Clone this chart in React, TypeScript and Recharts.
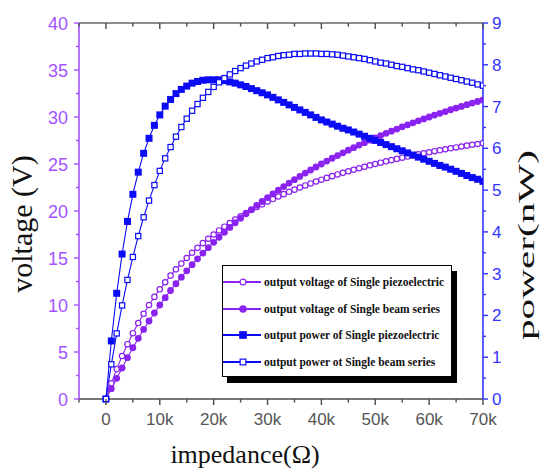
import React from 'react';
import { ComposedChart, Line, XAxis, YAxis, Legend } from 'recharts';

// impedance in kΩ
const impedanceK = [
  0, 1, 2, 3, 4, 5, 6, 7, 8, 9,
  10, 11, 12, 13, 14, 15, 16, 17, 18, 19,
  20, 21, 22, 23, 24, 25, 26, 27, 28, 29,
  30, 31, 32, 33, 34, 35, 36, 37, 38, 39,
  40, 41, 42, 43, 44, 45, 46, 47, 48, 49,
  50, 51, 52, 53, 54, 55, 56, 57, 58, 59,
  60, 61, 62, 63, 64, 65, 66, 67, 68, 69,
  70,
];

// output voltage of Single piezoelectric (V) – hollow circles
const voltagePiezo = [
  0, 1.67, 3.18, 4.57, 5.83, 7.0, 8.08, 9.07, 10.0, 10.86,
  11.67, 12.42, 13.13, 13.79, 14.41, 15.0, 15.56, 16.08, 16.58, 17.05,
  17.5, 17.93, 18.33, 18.72, 19.09, 19.44, 19.78, 20.11, 20.42, 20.71,
  21.0, 21.27, 21.54, 21.79, 22.04, 22.27, 22.5, 22.72, 22.93, 23.14,
  23.33, 23.52, 23.71, 23.89, 24.06, 24.23, 24.39, 24.55, 24.71, 24.86,
  25.0, 25.14, 25.28, 25.41, 25.54, 25.67, 25.79, 25.91, 26.03, 26.14,
  26.25, 26.36, 26.46, 26.57, 26.67, 26.76, 26.86, 26.95, 27.05, 27.13,
  27.22,
];

// output voltage of Single beam series (V) – filled circles
const voltageBeam = [
  0, 1.1, 2.2, 3.3, 4.4, 5.45, 6.45, 7.4, 8.3, 9.15,
  10.0, 10.78, 11.54, 12.26, 12.96, 13.64, 14.29, 14.91, 15.52, 16.1,
  16.67, 17.21, 17.74, 18.25, 18.75, 19.23, 19.7, 20.15, 20.59, 21.01,
  21.43, 21.83, 22.22, 22.6, 22.97, 23.33, 23.68, 24.03, 24.36, 24.68,
  25.0, 25.31, 25.61, 25.9, 26.19, 26.47, 26.74, 27.01, 27.27, 27.53,
  27.78, 28.02, 28.26, 28.49, 28.72, 28.95, 29.17, 29.38, 29.59, 29.8,
  30.0, 30.2, 30.39, 30.58, 30.77, 30.95, 31.13, 31.31, 31.48, 31.65,
  31.82,
];

// output power of Single piezoelectric (nW) – filled squares
const powerPiezo = [
  0, 1.39, 2.53, 3.47, 4.25, 4.9, 5.43, 5.88, 6.24, 6.55,
  6.8, 7.01, 7.17, 7.31, 7.41, 7.49, 7.56, 7.6, 7.63, 7.64,
  7.64, 7.64, 7.62, 7.59, 7.56, 7.52, 7.48, 7.43, 7.38, 7.33,
  7.28, 7.22, 7.16, 7.1, 7.04, 6.98, 6.92, 6.86, 6.8, 6.74,
  6.68, 6.63, 6.58, 6.53, 6.48, 6.44, 6.39, 6.34, 6.29, 6.24,
  6.19, 6.14, 6.09, 6.04, 5.99, 5.94, 5.89, 5.84, 5.79, 5.74,
  5.69, 5.64, 5.59, 5.55, 5.5, 5.45, 5.4, 5.35, 5.3, 5.26,
  5.21,
];

// output power of Single beam series (nW) – hollow squares
const powerBeam = [
  0, 0.83, 1.57, 2.24, 2.85, 3.4, 3.9, 4.35, 4.75, 5.12,
  5.46, 5.76, 6.03, 6.28, 6.51, 6.71, 6.9, 7.06, 7.21, 7.35,
  7.47, 7.58, 7.68, 7.77, 7.85, 7.92, 7.98, 8.03, 8.08, 8.12,
  8.16, 8.18, 8.21, 8.23, 8.24, 8.26, 8.26, 8.27, 8.27, 8.27,
  8.26, 8.26, 8.25, 8.24, 8.22, 8.2, 8.18, 8.16, 8.14, 8.11,
  8.08, 8.05, 8.03, 8.0, 7.97, 7.95, 7.92, 7.89, 7.87, 7.84,
  7.81, 7.78, 7.75, 7.72, 7.69, 7.66, 7.63, 7.6, 7.57, 7.53,
  7.5,
];

const xTicks = [-5000, 0, 5000, 10000, 15000, 20000, 25000, 30000, 35000, 40000, 45000, 50000, 55000, 60000, 65000, 70000];
const xMajorLabels: Record<number, string> = {
  0: '0', 10000: '10k', 20000: '20k', 30000: '30k', 40000: '40k', 50000: '50k', 60000: '60k', 70000: '70k',
};
const voltageTicks = [0, 2.5, 5, 7.5, 10, 12.5, 15, 17.5, 20, 22.5, 25, 27.5, 30, 32.5, 35, 37.5, 40];
const powerTicks = [0, 0.5, 1, 1.5, 2, 2.5, 3, 3.5, 4, 4.5, 5, 5.5, 6, 6.5, 7, 7.5, 8, 8.5, 9];

const seriesNames = {
  vp: 'output voltage of Single piezoelectric',
  vb: 'output voltage of Single beam series',
  pp: 'output power of Single piezoelectric',
  pb: 'output power ot Single beam series',
};

const data = impedanceK.map((r, i) => ({
  r: r * 1000,
  vp: voltagePiezo[i],
  vb: voltageBeam[i],
  pp: powerPiezo[i],
  pb: powerBeam[i],
}));

const PURPLE = '#8a22f0';
const PURPLE_AXIS = '#a452ff';
const BLUE = '#0b0bf5';
const BLUE_AXIS = '#3434ff';
const GRAY = '#4a4a4a';
const SANS = "'Liberation Sans', Arial, sans-serif";
const SERIF = "'Liberation Serif', 'Times New Roman', serif";

type Shape = 'circleHollow' | 'circleFilled' | 'squareFilled' | 'squareHollow';

const Marker = ({ cx, cy, shape, color, scale = 1 }: { cx: number; cy: number; shape: Shape; color: string; scale?: number }) => {
  if (shape === 'circleHollow') return <circle cx={cx} cy={cy} r={2.7 * scale} fill="#fff" stroke={color} strokeWidth={1.2} />;
  if (shape === 'circleFilled') return <circle cx={cx} cy={cy} r={3.4 * scale} fill={color} stroke="none" />;
  if (shape === 'squareFilled') {
    const s = 7 * scale;
    return <rect x={cx - s / 2} y={cy - s / 2} width={s} height={s} fill={color} />;
  }
  const s = 5.2 * scale;
  return <rect x={cx - s / 2} y={cy - s / 2} width={s} height={s} fill="#fff" stroke={color} strokeWidth={1.2} />;
};

const makeDot = (shape: Shape, color: string) => (p: any) => (
  <g key={`dot-${shape}-${p.index}`}>
    {p.cx != null && p.cy != null ? <Marker cx={p.cx} cy={p.cy} shape={shape} color={color} /> : null}
  </g>
);

const legendItems: { key: keyof typeof seriesNames; color: string; shape: Shape }[] = [
  { key: 'vp', color: PURPLE, shape: 'circleHollow' },
  { key: 'vb', color: PURPLE, shape: 'circleFilled' },
  { key: 'pp', color: BLUE, shape: 'squareFilled' },
  { key: 'pb', color: BLUE, shape: 'squareHollow' },
];

const LegendBox = () => (
  <div
    style={{
      width: 230,
      height: 112,
      boxSizing: 'border-box',
      border: '1.5px solid #000',
      background: '#fff',
      boxShadow: '5px 6px 0 #000',
      paddingTop: 3,
      overflow: 'hidden',
    }}
  >
    {legendItems.map((it) => (
      <div key={it.key} style={{ display: 'flex', alignItems: 'center', height: 26.5 }}>
        <svg width={40} height={12} style={{ flex: 'none' }}>
          <line x1={0} x2={38} y1={6} y2={6} stroke={it.color} strokeWidth={2} />
          <Marker cx={20} cy={6} shape={it.shape} color={it.color} scale={1.1} />
        </svg>
        <span
          style={{
            fontFamily: SERIF,
            fontSize: 11.5,
            fontWeight: 'bold',
            color: '#111',
            whiteSpace: 'nowrap',
            marginLeft: 1,
          }}
        >
          {seriesNames[it.key]}
        </span>
      </div>
    ))}
  </div>
);

const BottomTick = (props: any) => {
  const { x, y, payload } = props;
  const v = payload.value;
  const label = xMajorLabels[v];
  return (
    <g>
      <line x1={x} x2={x} y1={y} y2={y + (label ? 6 : 3.5)} stroke={GRAY} strokeWidth={1.4} />
      {label ? (
        <text x={x} y={y + 26} textAnchor="middle" fontSize={17} fill="#555" fontFamily={SANS}>
          {label}
        </text>
      ) : null}
    </g>
  );
};

const TopTick = (props: any) => {
  const { x, y, payload } = props;
  const major = xMajorLabels[payload.value] !== undefined;
  return <line x1={x} x2={x} y1={y} y2={y + (major ? 6 : 3.5)} stroke={GRAY} strokeWidth={1.4} />;
};

const LeftTick = (props: any) => {
  const { x, y, payload } = props;
  const v = payload.value;
  const major = v % 5 === 0;
  return (
    <g>
      <line x1={x - (major ? 5 : 3)} x2={x} y1={y} y2={y} stroke={PURPLE_AXIS} strokeWidth={1.4} />
      {major ? (
        <text x={x - 11} y={y + 6.5} textAnchor="end" fontSize={18} fill={PURPLE_AXIS} fontFamily={SANS}>
          {v}
        </text>
      ) : null}
    </g>
  );
};

const RightTick = (props: any) => {
  const { x, y, payload } = props;
  const v = payload.value;
  const major = Number.isInteger(v);
  return (
    <g>
      <line x1={x} x2={x + (major ? 5 : 3)} y1={y} y2={y} stroke={BLUE_AXIS} strokeWidth={1.4} />
      {major ? (
        <text x={x + 9} y={y + 6} textAnchor="start" fontSize={17} fill={BLUE_AXIS} fontFamily={SANS}>
          {v}
        </text>
      ) : null}
    </g>
  );
};

const XLabel = (props: any) => {
  const vb = props.viewBox || {};
  return (
    <text
      x={vb.x + vb.width / 2 - 36}
      y={vb.y + 64}
      textAnchor="middle"
      fontSize={26}
      fill="#111"
      fontFamily={SERIF}
    >
      impedance(Ω)
    </text>
  );
};

const VLabel = (props: any) => {
  const vb = props.viewBox || {};
  const cx = vb.x + 22;
  const cy = vb.y + vb.height / 2 + 13;
  return (
    <text
      x={0}
      y={0}
      transform={`translate(${cx + 10},${cy}) rotate(-90)`}
      textAnchor="middle"
      fontSize={30}
      fill="#111"
      fontFamily={SERIF}
    >
      voltage (V)
    </text>
  );
};

const PLabel = (props: any) => {
  const vb = props.viewBox || {};
  const cx = vb.x + 44;
  const cy = vb.y + vb.height / 2 + 34;
  return (
    <text
      x={0}
      y={0}
      transform={`translate(${cx + 7},${cy}) rotate(-90)`}
      textAnchor="middle"
      fontSize={23}
      textLength={190}
      lengthAdjust="spacingAndGlyphs"
      fill="#111"
      fontFamily={SERIF}
    >
      power(nW)
    </text>
  );
};

export default function App() {
  return (
    <div style={{ position: 'absolute', left: 0, top: 0, width: 540, height: 470, background: '#fff' }}>
      <ComposedChart width={540} height={470} data={data} margin={{ top: 22, right: 0, bottom: 0, left: 0 }}>
        <XAxis
          xAxisId="b"
          dataKey="r"
          type="number"
          domain={[-5000, 70000]}
          allowDataOverflow
          ticks={xTicks}
          interval={0}
          height={71}
          tickSize={0}
          tickMargin={0}
          tickLine={false}
          axisLine={{ stroke: GRAY, strokeWidth: 1.6 }}
          tick={BottomTick}
          label={{ content: XLabel }}
        />
        <XAxis
          xAxisId="t"
          orientation="top"
          dataKey="r"
          type="number"
          domain={[-5000, 70000]}
          allowDataOverflow
          ticks={xTicks}
          interval={0}
          height={1}
          tickSize={0}
          tickMargin={0}
          tickLine={false}
          axisLine={{ stroke: '#666', strokeWidth: 1.6 }}
          tick={TopTick}
        />
        <YAxis
          yAxisId="v"
          type="number"
          domain={[0, 40]}
          ticks={voltageTicks}
          interval={0}
          width={79}
          tickSize={0}
          tickMargin={0}
          tickLine={false}
          axisLine={{ stroke: PURPLE_AXIS, strokeWidth: 1.6 }}
          tick={LeftTick}
          label={{ content: VLabel }}
        />
        <YAxis
          yAxisId="p"
          orientation="right"
          type="number"
          domain={[0, 9]}
          ticks={powerTicks}
          interval={0}
          width={57}
          tickSize={0}
          tickMargin={0}
          tickLine={false}
          axisLine={{ stroke: BLUE_AXIS, strokeWidth: 1.6 }}
          tick={RightTick}
          label={{ content: PLabel }}
        />
        <Legend
          layout="vertical"
          align="center"
          verticalAlign="middle"
          content={<LegendBox />}
          wrapperStyle={{ left: 222, top: 265, width: 'auto' }}
        />
        <Line
          xAxisId="b"
          yAxisId="v"
          dataKey="vp"
          name={seriesNames.vp}
          stroke={PURPLE}
          strokeWidth={1.1}
          dot={makeDot('circleHollow', PURPLE)}
          activeDot={false}
          isAnimationActive={false}
        />
        <Line
          xAxisId="b"
          yAxisId="v"
          dataKey="vb"
          name={seriesNames.vb}
          stroke={PURPLE}
          strokeWidth={1.1}
          dot={makeDot('circleFilled', PURPLE)}
          activeDot={false}
          isAnimationActive={false}
        />
        <Line
          xAxisId="b"
          yAxisId="p"
          dataKey="pp"
          name={seriesNames.pp}
          stroke={BLUE}
          strokeWidth={1.1}
          dot={makeDot('squareFilled', BLUE)}
          activeDot={false}
          isAnimationActive={false}
        />
        <Line
          xAxisId="b"
          yAxisId="p"
          dataKey="pb"
          name={seriesNames.pb}
          stroke={BLUE}
          strokeWidth={1.1}
          dot={makeDot('squareHollow', BLUE)}
          activeDot={false}
          isAnimationActive={false}
        />
      </ComposedChart>
    </div>
  );
}
